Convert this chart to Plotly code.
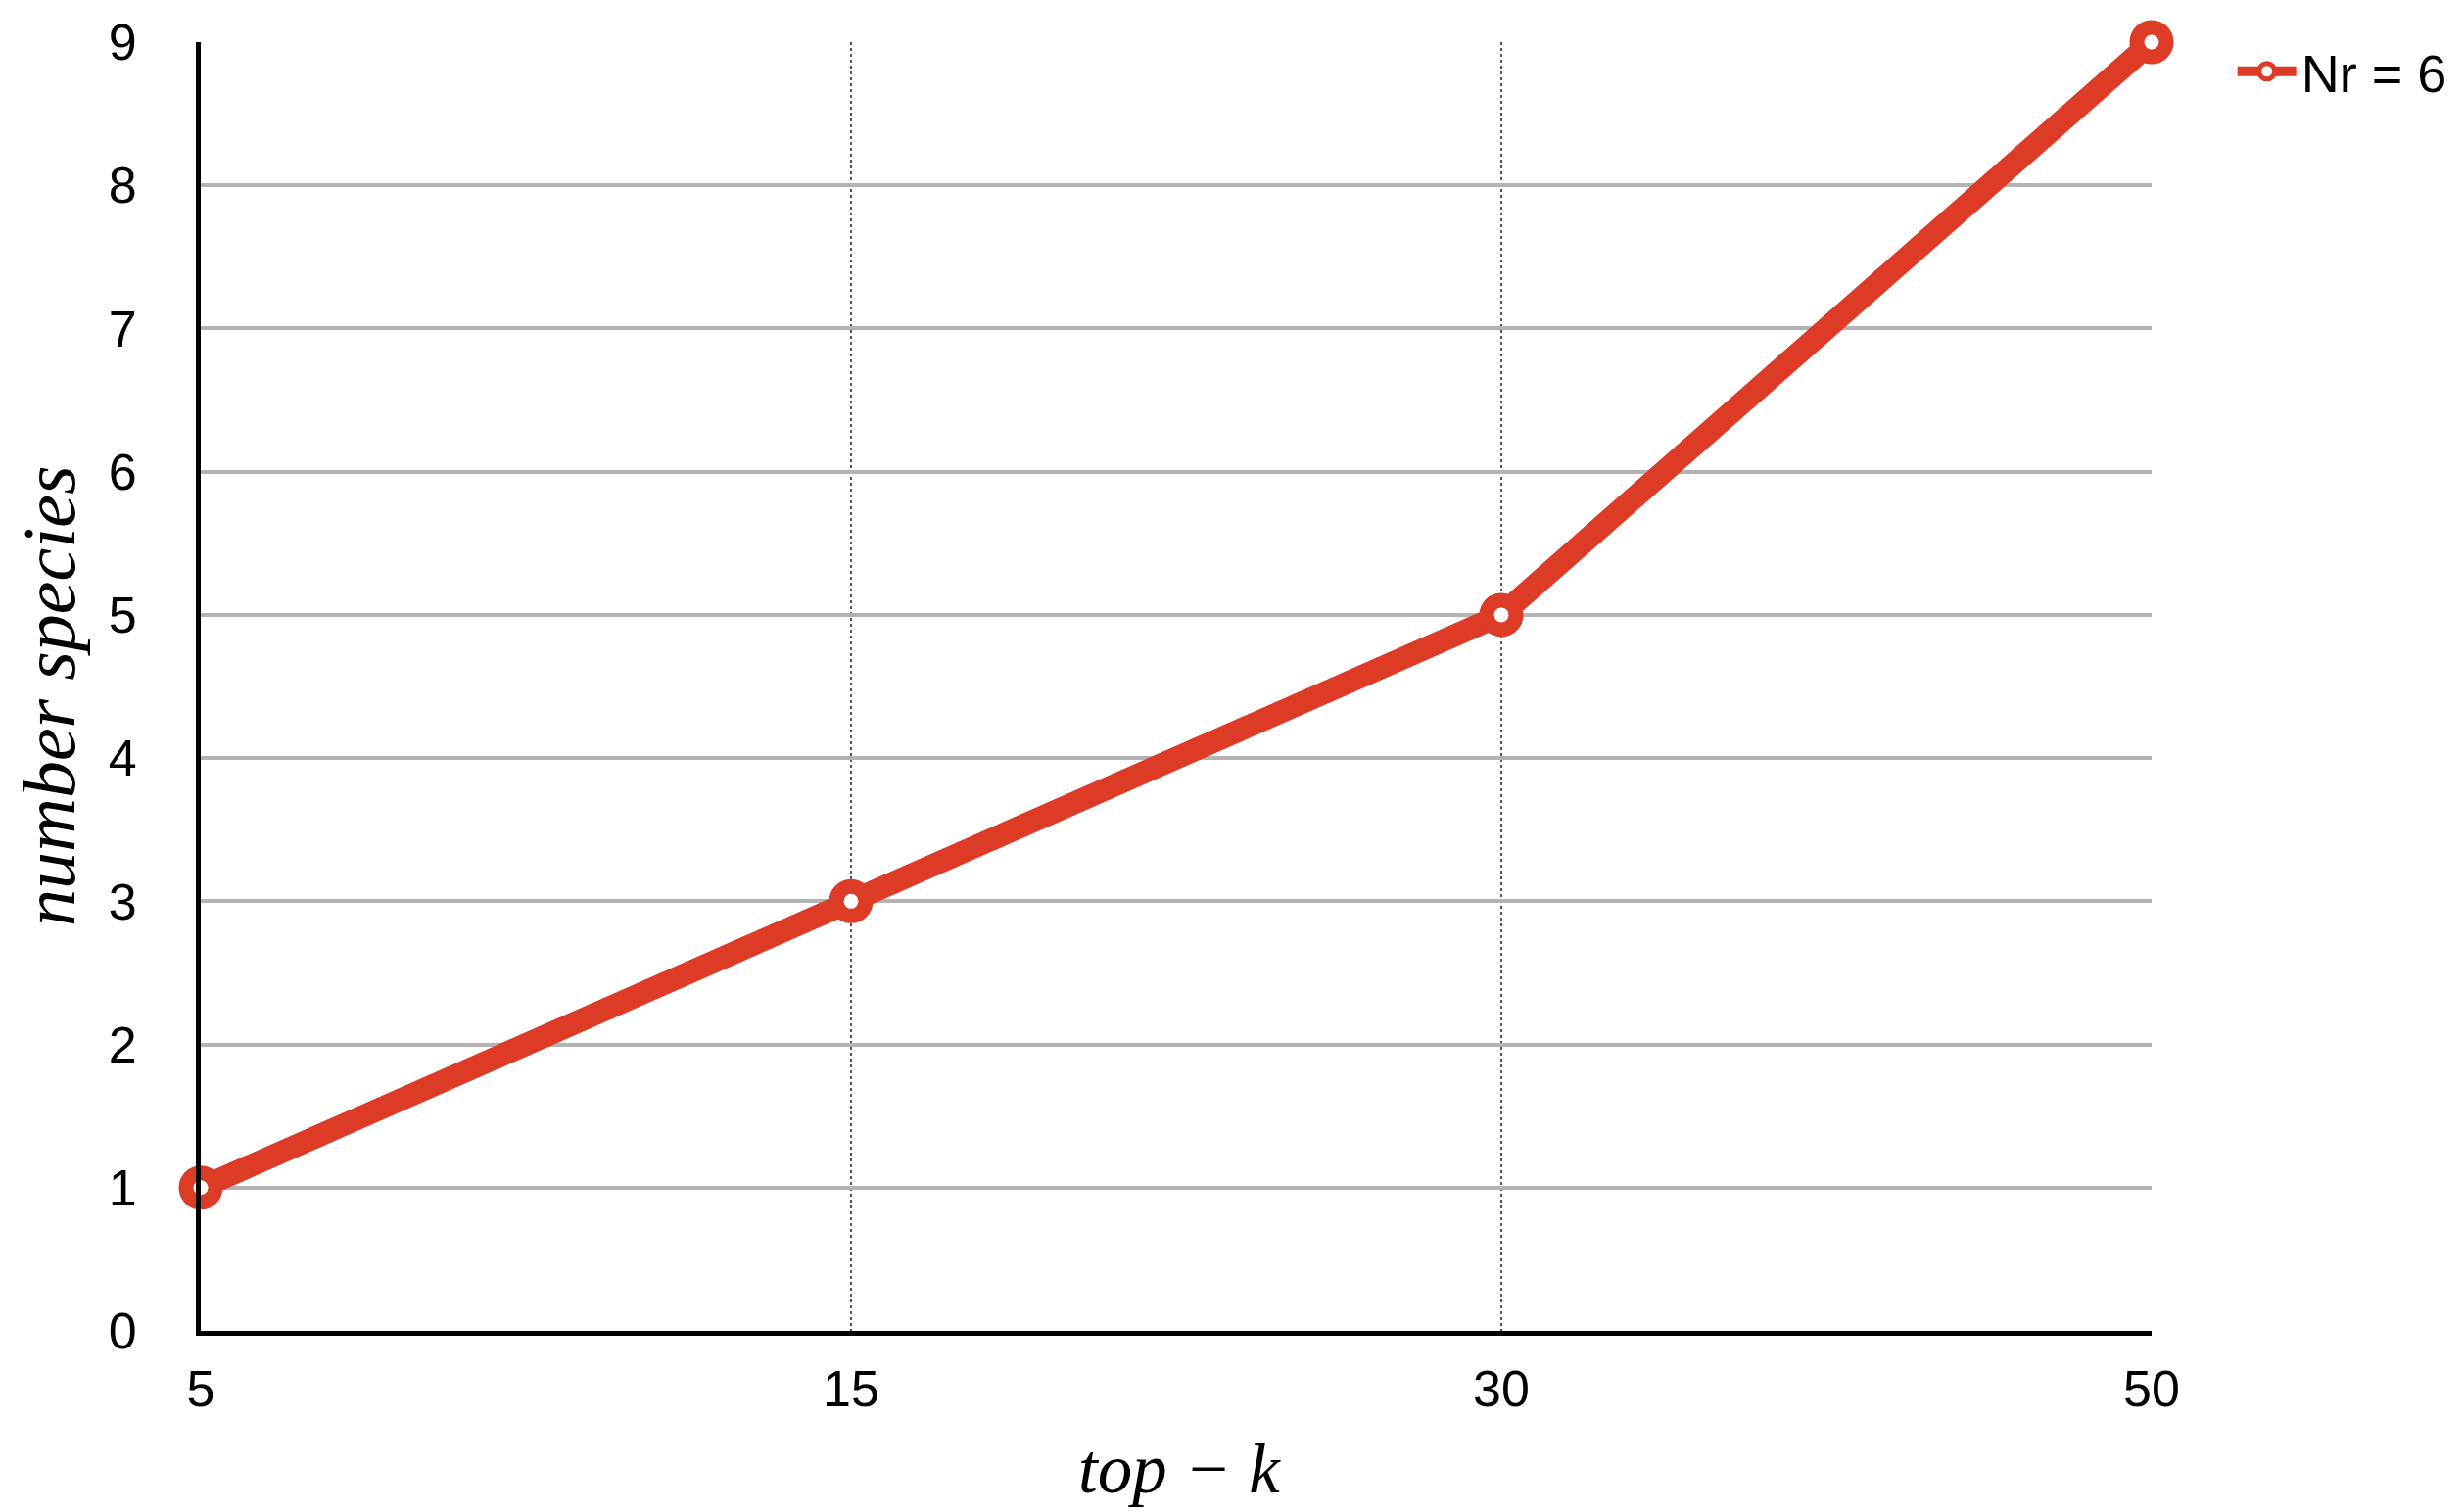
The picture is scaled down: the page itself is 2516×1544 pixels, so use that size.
import plotly.graph_objects as go

top_k = ["5", "15", "30", "50"]
num_species = [1, 3, 5, 9]
series_name = "Nr = 6"
y_ticks = [0, 1, 2, 3, 4, 5, 6, 7, 8, 9]

RED = "rgb(221,59,38)"
W, H = 2516, 1544
ML, MR, MT, MB = 205, 319, 43, 185

fig = go.Figure()
fig.add_trace(go.Scatter(
    x=top_k, y=num_species, name=series_name,
    mode="lines+markers",
    line=dict(color=RED, width=23),
    marker=dict(symbol="circle", size=30, color="white",
                line=dict(color=RED, width=15)),
    cliponaxis=False,
))

fig.update_layout(
    width=W, height=H,
    margin=dict(l=ML, r=MR, t=MT, b=MB, pad=0),
    paper_bgcolor="white", plot_bgcolor="white",
    font=dict(family="Liberation Sans, Arial, Helvetica, sans-serif", size=52, color="black"),
    showlegend=True,
    legend=dict(x=1.0415, xanchor="left", y=1.009, yanchor="top",
                font=dict(size=54), bgcolor="rgba(0,0,0,0)",
                itemwidth=60),
    xaxis=dict(
        type="category", range=[0, 3],
        showline=True, linecolor="black", linewidth=5,
        showgrid=True, gridcolor="#555555", gridwidth=1.5, griddash="dot",
        ticks="", ticklabelstandoff=10, zeroline=False,
    ),
    yaxis=dict(
        range=[0, 9], tickvals=y_ticks,
        showline=True, linecolor="black", linewidth=5,
        showgrid=True, gridcolor="#b3b3b3", gridwidth=3.5,
        ticks="", ticklabelstandoff=50, zeroline=False,
    ),
    annotations=[
        dict(text="<i>top − k</i>", xref="paper", yref="paper",
             x=(1204 - ML) / (W - ML - MR), y=(H - MB - 1500) / (H - MT - MB),
             xanchor="center", yanchor="middle", showarrow=False,
             font=dict(family="Liberation Serif, Times New Roman, serif", size=71)),
        dict(text="<i>number species</i>", xref="paper", yref="paper",
             x=(50 - ML) / (W - ML - MR), y=(H - MB - 711) / (H - MT - MB),
             xanchor="center", yanchor="middle", showarrow=False, textangle=-90,
             font=dict(family="Liberation Serif, Times New Roman, serif", size=76)),
    ],
)

fig.write_html("out.html", config={"displayModeBar": False},
               post_script="document.body.style.margin='0px';")
